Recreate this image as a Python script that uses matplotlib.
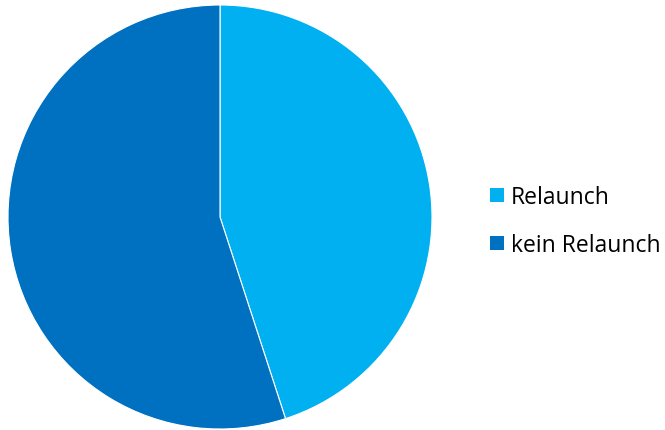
import matplotlib.pyplot as plt
from matplotlib.patches import Patch

# data
labels = ['Relaunch', 'kein Relaunch']
values = [45, 55]
colors = ['#00B0F0', '#0070C0']

plt.rcParams['font.family'] = ['Open Sans', 'DejaVu Sans']

fig = plt.figure(figsize=(6.65, 4.31), dpi=100)
# pie area: center ~ (220, 218) px, radius ~212 px
ax = fig.add_axes([8 / 665, 1 / 431, 424 / 665, 424 / 431])
ax.pie(values, colors=colors, startangle=90, counterclock=False,
       wedgeprops=dict(edgecolor='white', linewidth=0.8))
ax.set_xlim(-1, 1)
ax.set_ylim(-1, 1)
ax.set_aspect('equal')
ax.axis('off')

handles = [Patch(facecolor=c, edgecolor='none') for c in colors]
fig.legend(handles, labels, loc='center left', bbox_to_anchor=(490 / 665, 1 - 222 / 431),
           frameon=False, fontsize=16.5, handlelength=0.6, handleheight=0.6,
           handletextpad=0.3, labelspacing=1.05, borderaxespad=0, borderpad=0)

fig.savefig('out.png', dpi=100)
